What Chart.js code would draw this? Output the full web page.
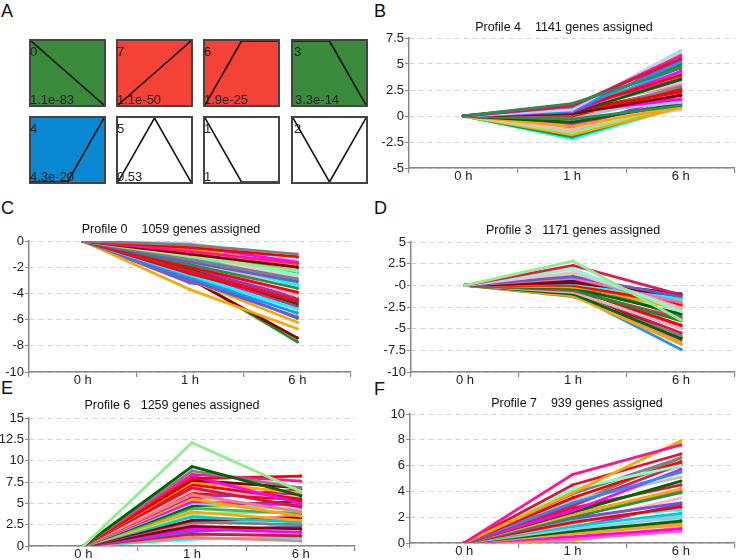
<!DOCTYPE html>
<html>
<head>
<meta charset="utf-8">
<script src="https://cdn.jsdelivr.net/npm/chart.js@4.4.1/dist/chart.umd.min.js"></script>
<style>
  body { margin: 0; background: #fff; font-family: "Liberation Sans", Arial, sans-serif; }
  #page { position: relative; width: 739px; height: 560px; overflow: hidden; }
  .letter { position: absolute; font-size: 18px; line-height: 18px; color: #111; }
  .title { position: absolute; font-size: 12.5px; line-height: 16px; color: #111; text-align: center; white-space: pre; }
  .box { position: absolute; width: 77px; height: 68px; box-sizing: border-box; border: 2px solid #444; }
  .box canvas { position: absolute; left: 0; top: 0; }
  .lbl { position: absolute; font-size: 13px; line-height: 13px; color: #222; }
  .chart { position: absolute; }
</style>
</head>
<body>
<div id="page"></div>
<script>
// time points
const timeLabels = ['0 h', '1 h', '6 h'];
const start0h = 0;

// panel A: model profiles
const profileIds = ['0', '7', '6', '3', '4', '5', '1', '2'];
const profilePvalues = ['1.1e-83', '1.1e-50', '1.9e-25', '3.3e-14', '4.3e-20', '0.53', '1', ''];
const profileShapes = [
  [0, -1, -2], [0, 1, 2], [0, 1, 1], [0, 0, -1],
  [0, 0, 1], [0, 1, 0], [0, -1, -1], [0, -1, 0]
];
const profileFills = ['#3a8a3c', '#f44336', '#f44336', '#3a8a3c', '#0a88d2', '#fff', '#fff', '#fff'];

// panel B: profile 4
const p4At1h = [1.2, 1.0, 0.9, 0.6, 0.5, 0.8, 0.7, 0.4, 0.3, 0.6, 0.5, 0.2, 0.4, 0.1, 0.8, 0.3, -0.3, -0.6, -1.0, -1.3,
  -1.6, -1.8, -2.0, -2.2, -0.8, -1.1, 0.0, 0.2, 0.7, 0.9, -0.5, 0.6, 0.1, 1.1, -1.4, 0.4, 0.3, -0.2];
const p4At6h = [4.6, 5.5, 5.8, 6.3, 5.2, 4.9, 3.9, 4.3, 3.5, 3.2, 2.3, 2.0, 1.6, 2.8, 3.0, 1.3, 1.0, 1.2, 0.9, 1.5,
  1.1, 0.8, 1.0, 0.9, 1.4, 2.0, 2.5, 6.0, 5.3, 4.1, 0.6, 3.6, 1.8, 5.0, 0.7, 2.6, 4.7, 1.9];
const p4Colors = ['#2e8b57', '#dc143c', '#ff1493', '#add8e6', '#1e90ff', '#228b22', '#ff0000', '#ff00ff', '#006400', '#ffb6c1',
  '#ff0000', '#8b0000', '#ff00ff', '#808080', '#ff69b4', '#87ceeb', '#2e8b57', '#006400', '#ffa500', '#ffb6c1',
  '#90ee90', '#ffa500', '#228b22', '#00ffff', '#ff00ff', '#6a5acd', '#ff0000', '#b0c4de', '#e6194b', '#3cb371',
  '#ffc0cb', '#9932cc', '#f4a460', '#2e8b57', '#f08080', '#8b0000', '#00bfff', '#c0c0c0'];

// panel C: profile 0
const p0At1h = [-0.3, -0.5, -0.2, -0.8, -1.0, -0.6, -1.2, -0.9, -1.4, -1.6, -1.1, -1.8, -2.0, -1.5, -2.3, -2.5, -2.2, -2.6,
  -2.8, -3.0, -3.0, -3.7, -2.9, -2.8, -1.3, -0.7, -1.9, -2.1, -0.4, -2.4, -1.7, -0.6, -2.7, -1.2, -3.2, -0.8];
const p0At6h = [-1.0, -1.2, -1.4, -1.7, -2.0, -1.9, -2.3, -2.6, -2.9, -3.1, -3.4, -3.6, -3.9, -4.2, -4.5, -4.6, -4.8, -5.2,
  -5.5, -5.8, -6.2, -6.7, -7.4, -7.7, -3.0, -2.1, -4.0, -4.3, -1.6, -5.0, -3.3, -2.4, -5.9, -2.7, -4.4, -2.2];
const p0Colors = ['#808080', '#ff0000', '#b0c4de', '#ff1493', '#8b0000', '#ffa500', '#90ee90', '#7fffd4', '#808080', '#6a5acd',
  '#00ffff', '#2e8b57', '#ff0000', '#ffb6c1', '#dc143c', '#ff0000', '#006400', '#00ffff', '#1e90ff', '#6a5acd',
  '#ffa500', '#ffa500', '#8b0000', '#228b22', '#ff69b4', '#90ee90', '#f08080', '#9932cc', '#ff00ff', '#ff1493',
  '#c0c0c0', '#3cb371', '#4169e1', '#ffc0cb', '#6a5acd', '#808000'];

// panel D: profile 3
const p3At1h = [2.8, 2.3, 1.9, 1.5, 1.0, 0.8, 0.3, 0.2, 0.0, -0.2, -0.3, -0.5, -0.6, -0.8, -1.0, -1.2, -1.0, -1.3, -0.4, 0.1,
  0.5, -0.7, 0.4, -0.1, 1.2, -0.9, 0.6, -0.2, 0.3, -0.5];
const p3At6h = [-4.0, -1.1, -3.0, -2.6, -1.3, -2.0, -1.2, -1.6, -2.2, -1.8, -3.3, -4.1, -3.8, -5.0, -6.2, -6.8, -7.4, -5.8, -4.6, -2.8,
  -1.0, -5.5, -3.6, -2.5, -3.9, -6.5, -1.5, -4.9, -2.1, -6.0];
const p3Colors = ['#90ee90', '#e6194b', '#7fffd4', '#ffb6c1', '#6a5acd', '#ff69b4', '#8b0000', '#00ffff', '#ff0000', '#ffa500',
  '#006400', '#228b22', '#ff1493', '#c0c0c0', '#006400', '#ffa500', '#1e90ff', '#808080', '#ff0000', '#ffa500',
  '#191970', '#dc143c', '#2e8b57', '#ff0000', '#90ee90', '#f08080', '#00ced1', '#ff00ff', '#ffa500', '#8b0000'];

// panel E: profile 6
const p6At1h = [12.1, 9.3, 8.8, 8.4, 7.9, 8.2, 7.7, 7.5, 7.2, 6.8, 6.5, 6.0, 5.8, 5.5, 5.2, 5.0, 4.7, 4.4, 4.0, 3.8,
  3.4, 3.0, 2.8, 2.3, 2.0, 1.7, 1.4, 1.0, 0.8, 6.2, 3.6, 7.0, 5.6, 4.5, 2.6, 1.2];
const p6At6h = [6.4, 5.9, 6.8, 7.6, 8.2, 5.0, 6.8, 6.2, 5.5, 4.6, 5.7, 4.0, 6.1, 3.5, 4.8, 4.3, 5.2, 3.8, 3.0, 4.0,
  2.8, 3.3, 2.5, 2.0, 1.6, 2.3, 1.2, 0.6, 1.0, 5.4, 2.1, 4.4, 6.6, 4.9, 3.6, 1.8];
const p6Colors = ['#90ee90', '#006400', '#808080', '#ff1493', '#ff0000', '#ff00ff', '#8b0000', '#ffa500', '#ff0000', '#dc143c',
  '#ffb6c1', '#f08080', '#9932cc', '#ffa500', '#ff00ff', '#87ceeb', '#006400', '#3cb371', '#ffa500', '#90ee90',
  '#00ced1', '#8b0000', '#808080', '#8b0000', '#ff00ff', '#6a5acd', '#dc143c', '#f08080', '#00ffff', '#ff0000',
  '#b0c4de', '#c0c0c0', '#dc143c', '#ffd700', '#ff69b4', '#add8e6'];

// panel F: profile 7
const p7At1h = [5.3, 3.9, 4.5, 4.2, 3.8, 3.5, 3.1, 2.9, 2.5, 2.4, 2.2, 2.0, 1.9, 1.6, 1.5, 1.3, 1.1, 0.9, 0.7, 0.5,
  0.3, 0.2, 2.7, 3.3, 1.8, 1.2, 4.0, 0.8, 2.3, 1.0, 3.0, 0.4];
const p7At6h = [7.6, 7.9, 6.9, 6.0, 6.6, 6.3, 5.5, 6.1, 5.7, 4.8, 4.2, 3.9, 3.1, 2.8, 3.5, 2.3, 2.0, 1.7, 1.4, 1.1,
  0.9, 1.2, 4.5, 5.1, 2.6, 3.0, 5.9, 2.2, 4.0, 1.5, 6.6, 1.9];
const p7Colors = ['#ff1493', '#ffa500', '#dc143c', '#7fffd4', '#808080', '#ff0000', '#1e90ff', '#e6194b', '#ff00ff', '#006400',
  '#ffa500', '#2e8b57', '#6a5acd', '#ff0000', '#ffb6c1', '#00ced1', '#87ceeb', '#006400', '#ffa500', '#ff00ff',
  '#ff69b4', '#ffa500', '#dc143c', '#c0c0c0', '#00ffff', '#9932cc', '#90ee90', '#b0c4de', '#808080', '#f08080',
  '#808080', '#add8e6'];

const page = document.getElementById('page');

function addDiv(cls, text, left, top, extra) {
  const d = document.createElement('div');
  d.className = cls;
  d.textContent = text;
  d.style.left = left + 'px';
  d.style.top = top + 'px';
  if (extra) Object.assign(d.style, extra);
  page.appendChild(d);
  return d;
}

// panel letters
addDiv('letter', 'A', 1, 2);
addDiv('letter', 'B', 374, 2);
addDiv('letter', 'C', 1, 199);
addDiv('letter', 'D', 374, 199);
addDiv('letter', 'E', 1, 379);
addDiv('letter', 'F', 374, 380);

// panel A boxes
const boxCols = [29, 116, 203, 291];
const boxRows = [39, 116];
profileIds.forEach((pid, i) => {
  const left = boxCols[i % 4], top = boxRows[Math.floor(i / 4)];
  const box = document.createElement('div');
  box.className = 'box';
  box.style.left = left + 'px';
  box.style.top = top + 'px';
  box.style.background = profileFills[i];
  const cv = document.createElement('canvas');
  cv.width = 73; cv.height = 64;
  cv.style.width = '73px'; cv.style.height = '64px';
  box.appendChild(cv);
  page.appendChild(box);
  const shape = profileShapes[i];
  new Chart(cv, {
    type: 'line',
    data: {
      datasets: [{
        data: shape.map((v, k) => ({ x: k, y: v })),
        borderColor: '#111', borderWidth: 1.6, pointRadius: 0, clip: 2
      }]
    },
    options: {
      responsive: false, animation: false, events: [],
      layout: { padding: 0 },
      plugins: { legend: { display: false }, tooltip: { enabled: false } },
      scales: {
        x: { type: 'linear', min: 0, max: 2, display: false },
        y: { min: Math.min(...shape), max: Math.max(...shape), display: false }
      }
    }
  });
  addDiv('lbl', pid, left + 1 + (i === 3 || i === 7 ? 2 : 0), top + 6);
  if (profilePvalues[i]) addDiv('lbl', profilePvalues[i], left + 1 + (i === 3 ? 3 : 0), top + 54);
});

// panels B-F
function profileChart(geo, title, yMin, yMax, yStep, at1h, at6h, colors, zeroLabel) {
  const cv = document.createElement('canvas');
  cv.className = 'chart';
  cv.width = geo.width; cv.height = geo.height;
  cv.style.left = geo.left + 'px'; cv.style.top = geo.top + 'px';
  cv.style.width = geo.width + 'px'; cv.style.height = geo.height + 'px';
  page.appendChild(cv);
  addDiv('title', title, geo.titleX - 120, geo.titleY - 7, { width: '240px' });

  const datasets = at1h.map((v, i) => ({
    data: [start0h, v, at6h[i]],
    borderColor: colors[i],
    backgroundColor: colors[i],
    borderWidth: 2.8,
    pointRadius: 1.7,
    pointBorderWidth: 0,
    tension: 0
  }));

  return new Chart(cv, {
    type: 'line',
    data: { labels: timeLabels, datasets: datasets },
    options: {
      responsive: false, animation: false, events: [],
      layout: { padding: { top: 10, right: 2, left: 0, bottom: 0 } },
      plugins: { legend: { display: false }, tooltip: { enabled: false } },
      scales: {
        x: {
          offset: true,
          grid: { offset: true, drawOnChartArea: false, tickLength: 5, tickColor: '#888', lineWidth: 1.2 },
          border: { color: '#888', width: 1.5 },
          ticks: { color: '#222', font: { size: 13, family: 'Liberation Sans' }, padding: -4 },
          afterFit: (s) => { s.height = 20; }
        },
        y: {
          min: yMin, max: yMax,
          grid: { color: '#d4d4d4', lineWidth: 1, tickLength: 4, tickColor: '#888', tickBorderDash: [] },
          border: { color: '#888', width: 1.5, dash: [5, 4] },
          ticks: {
            stepSize: yStep, color: '#222', padding: 1,
            font: { size: 13, family: 'Liberation Sans' },
            callback: (v) => (v === 0 && zeroLabel ? zeroLabel : String(v))
          },
          afterFit: (s) => { s.width = geo.yW; }
        }
      }
    }
  });
}

profileChart({ left: 369, top: 28, width: 370, height: 160, yW: 40, titleX: 564, titleY: 26 },
  'Profile 4    1141 genes assigned', -5, 7.5, 2.5, p4At1h, p4At6h, p4Colors);
profileChart({ left: 0, top: 231, width: 355, height: 161, yW: 29, titleX: 171, titleY: 228 },
  'Profile 0    1059 genes assigned', -10, 0, 2, p0At1h, p0At6h, p0Colors);
profileChart({ left: 371, top: 232, width: 368, height: 160, yW: 40, titleX: 573, titleY: 229 },
  'Profile 3   1171 genes assigned', -10, 5, 2.5, p3At1h, p3At6h, p3Colors, '-0');
profileChart({ left: 0, top: 408, width: 359, height: 158, yW: 29, titleX: 172, titleY: 404 },
  'Profile 6   1259 genes assigned', 0, 15, 2.5, p6At1h, p6At6h, p6Colors);
profileChart({ left: 370, top: 404, width: 369, height: 159, yW: 40, titleX: 577, titleY: 402 },
  'Profile 7    939 genes assigned', 0, 10, 2, p7At1h, p7At6h, p7Colors);
</script>
</body>
</html>
